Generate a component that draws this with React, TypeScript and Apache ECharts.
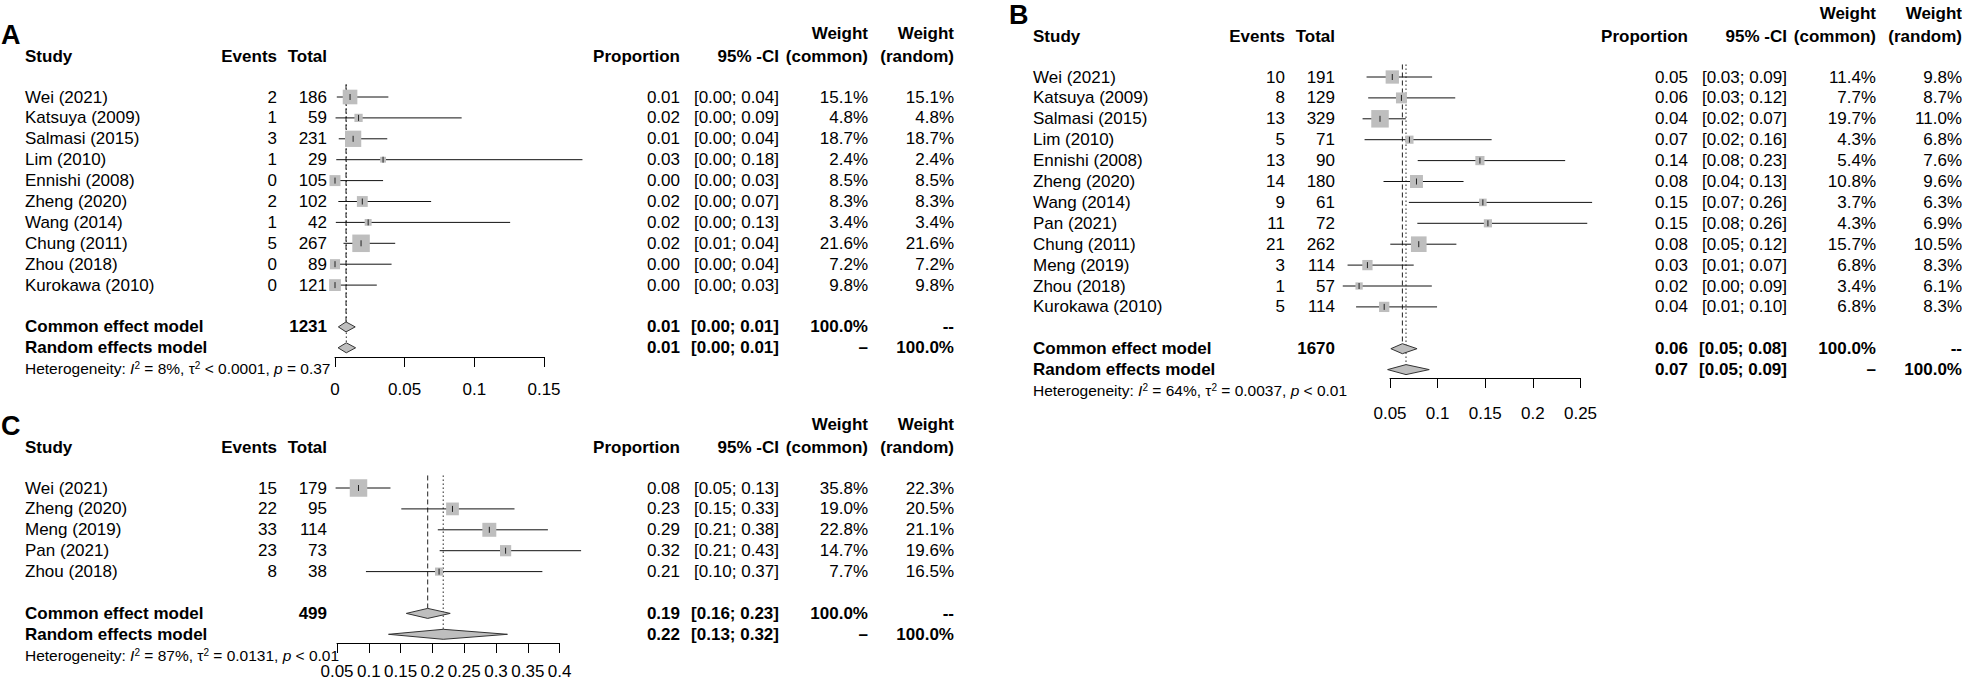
import React, { useEffect, useRef } from "react";
import * as echarts from "echarts";

// ---------------- Panel A data ----------------
const studiesA = ["Wei (2021)", "Katsuya (2009)", "Salmasi (2015)", "Lim (2010)", "Ennishi (2008)", "Zheng (2020)", "Wang (2014)", "Chung (2011)", "Zhou (2018)", "Kurokawa (2010)"];
const eventsA = [2, 1, 3, 1, 0, 2, 1, 5, 0, 0];
const totalsA = [186, 59, 231, 29, 105, 102, 42, 267, 89, 121];
const propA = [0.0108, 0.0169, 0.013, 0.0345, 0, 0.0196, 0.0238, 0.0187, 0, 0];
const lowerA = [0.0013, 0.0004, 0.0027, 0.0009, 0, 0.0024, 0.0006, 0.0061, 0, 0];
const upperA = [0.0383, 0.0909, 0.0375, 0.1776, 0.0345, 0.069, 0.1257, 0.0432, 0.0406, 0.03];
const wCommonA = [15.1, 4.8, 18.7, 2.4, 8.5, 8.3, 3.4, 21.6, 7.2, 9.8];
const wRandomA = [15.1, 4.8, 18.7, 2.4, 8.5, 8.3, 3.4, 21.6, 7.2, 9.8];
const commonA = [0.0079, 0.0024, 0.0145];
const randomA = [0.0081, 0.0022, 0.0148];
const hetA = ["8%", "< 0.0001", "= 0.37"];
const axisA = [0, 0.15, 0.05];

// ---------------- Panel B data ----------------
const studiesB = ["Wei (2021)", "Katsuya (2009)", "Salmasi (2015)", "Lim (2010)", "Ennishi (2008)", "Zheng (2020)", "Wang (2014)", "Pan (2021)", "Chung (2011)", "Meng (2019)", "Zhou (2018)", "Kurokawa (2010)"];
const eventsB = [10, 8, 13, 5, 13, 14, 9, 11, 21, 3, 1, 5];
const totalsB = [191, 129, 329, 71, 90, 180, 61, 72, 262, 114, 57, 114];
const propB = [0.0524, 0.062, 0.03951, 0.0704, 0.1444, 0.0778, 0.1475, 0.1528, 0.0802, 0.0263, 0.01754, 0.0439];
const lowerB = [0.0254, 0.0271, 0.0212, 0.0233, 0.0791, 0.0432, 0.0698, 0.0787, 0.0503, 0.00546, 0.0004, 0.0144];
const upperB = [0.0942, 0.1185, 0.0666, 0.1567, 0.2339, 0.1272, 0.2622, 0.2571, 0.1197, 0.0749, 0.0939, 0.0994];
const wCommonB = [11.4, 7.7, 19.7, 4.3, 5.4, 10.8, 3.7, 4.3, 15.7, 6.8, 3.4, 6.8];
const wRandomB = [9.8, 8.7, 11.0, 6.8, 7.6, 9.6, 6.3, 6.9, 10.5, 8.3, 6.1, 8.3];
const commonB = [0.063, 0.0509, 0.0784];
const randomB = [0.0668, 0.0475, 0.0912];
const hetB = ["64%", "= 0.0037", "< 0.01"];
const axisB = [0.05, 0.25, 0.05];

// ---------------- Panel C data ----------------
const studiesC = ["Wei (2021)", "Zheng (2020)", "Meng (2019)", "Pan (2021)", "Zhou (2018)"];
const eventsC = [15, 22, 33, 23, 8];
const totalsC = [179, 95, 114, 73, 38];
const propC = [0.0838, 0.2316, 0.2895, 0.3151, 0.2105];
const lowerC = [0.0478, 0.1511, 0.2085, 0.2114, 0.0955];
const upperC = [0.1341, 0.3291, 0.3816, 0.4338, 0.3729];
const wCommonC = [35.8, 19.0, 22.8, 14.7, 7.7];
const wRandomC = [22.3, 20.5, 21.1, 19.6, 16.5];
const commonC = [0.1926, 0.159, 0.228];
const randomC = [0.217, 0.131, 0.318];
const hetC = ["87%", "= 0.0131", "< 0.01"];
const axisC = [0.05, 0.4, 0.05];

// ---------------- layout / style ----------------
const FONT = "'Liberation Sans', Arial, Helvetica, sans-serif";
const FS = 17;
const ROW_H = 20.9;
const COLS = { name: 25, events: 277, total: 327, prop: 680, ci: 779, wc: 868, wr: 954 };
const BOX_MAX = 17.5;

const panels = [
  { label: "A", studies: studiesA, events: eventsA, totals: totalsA, prop: propA, lower: lowerA, upper: upperA, wCommon: wCommonA, wRandom: wRandomA, common: commonA, random: randomA, het: hetA, axis: axisA,
    layout: { ox: 0, row0Y: 97, axisY: 357, left: 335, right: 544, labelMargin: 24 } },
  { label: "B", studies: studiesB, events: eventsB, totals: totalsB, prop: propB, lower: lowerB, upper: upperB, wCommon: wCommonB, wRandom: wRandomB, common: commonB, random: randomB, het: hetB, axis: axisB,
    layout: { ox: 1008, row0Y: 77, axisY: 378, left: 1390, right: 1580.5, labelMargin: 27 } },
  { label: "C", studies: studiesC, events: eventsC, totals: totalsC, prop: propC, lower: lowerC, upper: upperC, wCommon: wCommonC, wRandom: wRandomC, common: commonC, random: randomC, het: hetC, axis: axisC,
    layout: { ox: 0, row0Y: 488, axisY: 643, left: 337, right: 559.6, labelMargin: 20 } },
];

function fmtCI(lo: number, hi: number) {
  return `[${lo.toFixed(2)}; ${hi.toFixed(2)}]`;
}

type Cell = { x: number; text: string; align: string; bold?: boolean; size?: number; rich?: any; lineHeight?: number };

function buildTable(p: any) {
  const ox = p.layout.ox;
  const n = p.studies.length;
  const rows: { row: number; cells: Cell[] }[] = [];
  const c = (x: number, text: string, align: string, bold = false, size = FS): Cell => ({ x: ox + x, text, align, bold, size });
  rows.push({ row: -2.95, cells: [c(1, p.label, "left", true, 27)] });
  rows.push({ row: -3.05, cells: [c(COLS.wc, "Weight", "right", true), c(COLS.wr, "Weight", "right", true)] });
  rows.push({
    row: -1.92,
    cells: [
      c(COLS.name, "Study", "left", true),
      c(COLS.events, "Events", "right", true),
      c(COLS.total, "Total", "right", true),
      c(COLS.prop, "Proportion", "right", true),
      c(COLS.ci, "95% -CI", "right", true),
      c(COLS.wc, "(common)", "right", true),
      c(COLS.wr, "(random)", "right", true),
    ],
  });
  p.studies.forEach((s: string, i: number) => {
    rows.push({
      row: i,
      cells: [
        c(COLS.name, s, "left"),
        c(COLS.events, String(p.events[i]), "right"),
        c(COLS.total, String(p.totals[i]), "right"),
        c(COLS.prop, p.prop[i].toFixed(2), "right"),
        c(COLS.ci, fmtCI(p.lower[i], p.upper[i]), "right"),
        c(COLS.wc, p.wCommon[i].toFixed(1) + "%", "right"),
        c(COLS.wr, p.wRandom[i].toFixed(1) + "%", "right"),
      ],
    });
  });
  const total = p.totals.reduce((a: number, b: number) => a + b, 0);
  rows.push({
    row: n + 1,
    cells: [
      c(COLS.name, "Common effect model", "left", true),
      c(COLS.total, String(total), "right", true),
      c(COLS.prop, p.common[0].toFixed(2), "right", true),
      c(COLS.ci, fmtCI(p.common[1], p.common[2]), "right", true),
      c(COLS.wc, "100.0%", "right", true),
      c(COLS.wr, "--", "right", true),
    ],
  });
  rows.push({
    row: n + 2,
    cells: [
      c(COLS.name, "Random effects model", "left", true),
      c(COLS.prop, p.random[0].toFixed(2), "right", true),
      c(COLS.ci, fmtCI(p.random[1], p.random[2]), "right", true),
      c(COLS.wc, "–", "right", true),
      c(COLS.wr, "100.0%", "right", true),
    ],
  });
  rows.push({
    row: n + 3,
    cells: [
      {
        x: ox + COLS.name,
        text: `Heterogeneity: {i|I}{s|2} = ${p.het[0]}, τ{s|2} ${p.het[1]}, {i|p} ${p.het[2]}`,
        align: "left",
        size: 15.5,
        lineHeight: 16,
        rich: {
          i: { fontStyle: "italic", fontSize: 15.5, fontFamily: FONT, fill: "#000", lineHeight: 16 },
          s: { fontSize: 10, fontFamily: FONT, fill: "#000", lineHeight: 8, verticalAlign: "top" },
        },
      },
    ],
  });
  return rows;
}

function buildOption() {
  const grid: any[] = [];
  const xAxis: any[] = [];
  const yAxis: any[] = [];
  const series: any[] = [];

  panels.forEach((p: any, g: number) => {
    const L = p.layout;
    const n = p.studies.length;
    const commonRow = n + 1;
    const randomRow = n + 2;
    const top = L.row0Y - ROW_H;
    const yMax = (L.axisY - L.row0Y) / ROW_H;
    grid.push({ left: L.left, top, width: L.right - L.left, height: L.axisY - top, containLabel: false, outerBoundsMode: "none" });
    xAxis.push({
      gridIndex: g,
      type: "value",
      min: p.axis[0],
      max: p.axis[1],
      interval: p.axis[2],
      axisLine: { show: true, onZero: false, lineStyle: { color: "#000", width: 1 } },
      axisTick: { show: true, length: 10, lineStyle: { color: "#000", width: 1 } },
      axisLabel: { show: true, color: "#000", fontSize: FS, fontFamily: FONT, margin: L.labelMargin, hideOverlap: false },
      splitLine: { show: false },
    });
    yAxis.push({ gridIndex: g, type: "value", inverse: true, min: -1, max: yMax, show: false });

    const maxW = Math.max(...p.wCommon);

    // reference lines (common dashed, random dotted)
    series.push({
      type: "custom",
      xAxisIndex: g,
      yAxisIndex: g,
      clip: false,
      silent: true,
      z: 2,
      data: [
        [p.common[0], -0.6, commonRow, 0],
        [p.random[0], -0.6, randomRow, 1],
      ],
      renderItem: (params: any, api: any) => {
        const a = api.coord([api.value(0), api.value(1)]);
        const b = api.coord([api.value(0), api.value(2)]);
        const dotted = api.value(3) === 1;
        return {
          type: "line",
          shape: { x1: a[0], y1: a[1], x2: b[0], y2: b[1] - 5 },
          style: { stroke: "#222", lineWidth: 1, lineDash: dotted ? [1.5, 2.5] : [5, 3] },
        };
      },
    });

    // studies: CI line, square, estimate tick
    series.push({
      type: "custom",
      xAxisIndex: g,
      yAxisIndex: g,
      clip: false,
      silent: true,
      z: 3,
      data: p.prop.map((v: number, i: number) => [v, i, p.lower[i], p.upper[i], p.wCommon[i]]),
      renderItem: (params: any, api: any) => {
        const cpt = api.coord([api.value(0), api.value(1)]);
        const lo = api.coord([api.value(2), api.value(1)]);
        const hi = api.coord([api.value(3), api.value(1)]);
        const s = BOX_MAX * Math.sqrt(api.value(4) / maxW);
        return {
          type: "group",
          children: [
            { type: "line", shape: { x1: lo[0], y1: cpt[1], x2: hi[0], y2: cpt[1] }, style: { stroke: "#111", lineWidth: 1 } },
            { type: "rect", shape: { x: cpt[0] - s / 2, y: cpt[1] - s / 2, width: s, height: s }, style: { fill: "#BEBEBE" } },
            { type: "line", shape: { x1: cpt[0], y1: cpt[1] - 3, x2: cpt[0], y2: cpt[1] + 3 }, style: { stroke: "#222", lineWidth: 1 } },
          ],
        };
      },
    });

    // diamonds
    series.push({
      type: "custom",
      xAxisIndex: g,
      yAxisIndex: g,
      clip: false,
      silent: true,
      z: 4,
      data: [
        [p.common[0], commonRow, p.common[1], p.common[2]],
        [p.random[0], randomRow, p.random[1], p.random[2]],
      ],
      renderItem: (params: any, api: any) => {
        const cpt = api.coord([api.value(0), api.value(1)]);
        const lo = api.coord([api.value(2), api.value(1)]);
        const hi = api.coord([api.value(3), api.value(1)]);
        return {
          type: "polygon",
          shape: { points: [[lo[0], cpt[1]], [cpt[0], cpt[1] - 5], [hi[0], cpt[1]], [cpt[0], cpt[1] + 5]] },
          style: { fill: "#BEBEBE", stroke: "#333", lineWidth: 1 },
        };
      },
    });

    // table texts
    const rows = buildTable(p);
    const xRef = p.axis[0];
    series.push({
      type: "custom",
      xAxisIndex: g,
      yAxisIndex: g,
      clip: false,
      silent: true,
      z: 5,
      data: rows.map((r) => [xRef, r.row]),
      renderItem: (params: any, api: any) => {
        const r = rows[params.dataIndex];
        const y = api.coord([xRef, api.value(1)])[1];
        return {
          type: "group",
          children: r.cells.map((cl) => ({
            type: "text",
            style: {
              x: cl.x,
              y,
              text: cl.text,
              fill: "#000",
              fontSize: cl.size || FS,
              fontFamily: FONT,
              fontWeight: cl.bold ? "bold" : "normal",
              align: cl.align,
              verticalAlign: "middle",
              textAlign: cl.align,
              textVerticalAlign: "middle",
              lineHeight: cl.lineHeight,
              rich: cl.rich,
            },
          })),
        };
      },
    });
  });

  return { animation: false, backgroundColor: "#fff", grid, xAxis, yAxis, series };
}

export default function App() {
  const ref = useRef<HTMLDivElement>(null);
  useEffect(() => {
    document.body.style.margin = "0";
    if (!ref.current) return;
    const chart = echarts.init(ref.current, null, { renderer: "svg" });
    chart.setOption(buildOption() as any);
    return () => chart.dispose();
  }, []);
  return <div ref={ref} style={{ width: 1962, height: 683, background: "#fff" }} />;
}
